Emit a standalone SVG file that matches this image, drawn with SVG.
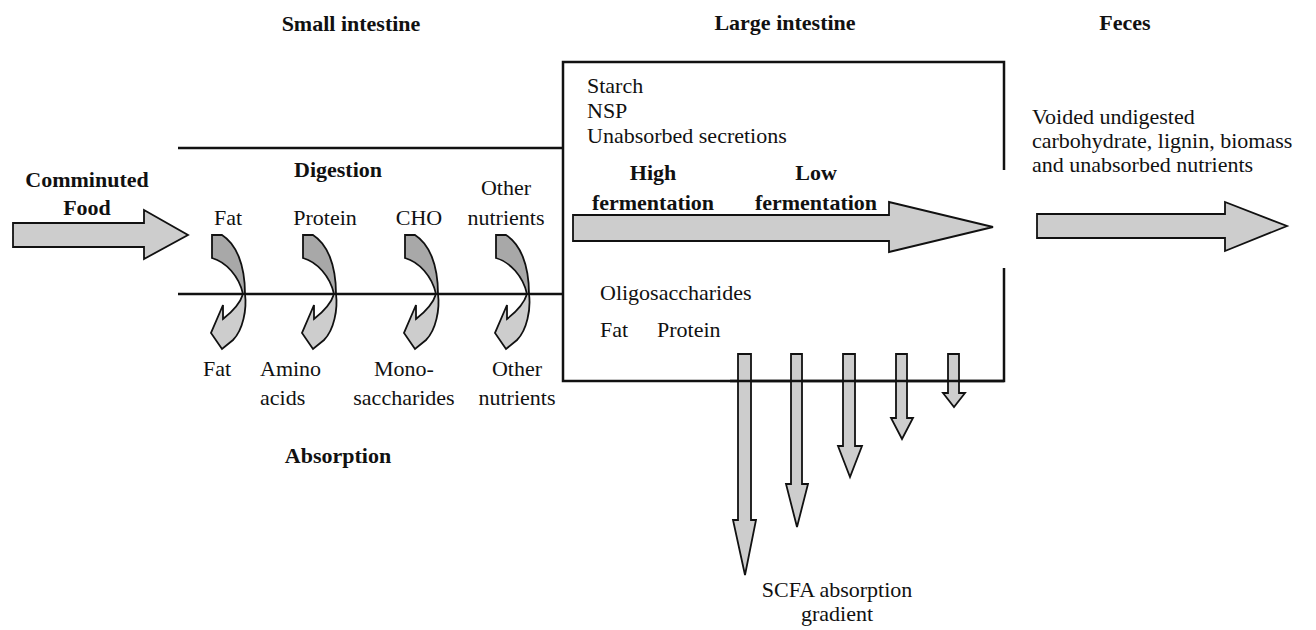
<svg xmlns="http://www.w3.org/2000/svg" width="1316" height="630" viewBox="0 0 1316 630" font-family="'Liberation Serif', 'Times New Roman', serif">
<style>
text{font-family:"Liberation Serif","Times New Roman",serif;font-size:22px;fill:#111}
.b{font-weight:bold}
.m{text-anchor:middle}
.ln{stroke:#111;stroke-width:2.5;fill:none}
.ar{fill:#cdcdcd;stroke:#111;stroke-width:1.8;stroke-linejoin:miter}
.dk{fill:#a8a8a8;stroke:#111;stroke-width:1.8}
</style>
<defs>
<g id="curl">
<path class="dk" d="M-32,-59 L-22,-59 C-8,-50 1,-30 1,0 L-1,0 C-5,-18 -18,-32 -32,-36 Z"/>
<path class="ar" d="M1,0 C3,15 -1,36 -11,46 L-22,55 L-33,39 L-21,11 L-21,25 C-12,18 -4,10 -1,0 Z"/>
</g>
</defs>
<rect width="1316" height="630" fill="#fff"/>
<g id="headers">
<text class="b m" x="351" y="31">Small intestine</text>
<text class="b m" x="785" y="30">Large intestine</text>
<text class="b m" x="1125" y="30">Feces</text>
</g>
<g id="food">
<path class="ar" d="M13,223 L144,223 L144,210 L188,235 L144,259 L144,247 L13,247 Z"/>
<text class="b m" x="87" y="187">Comminuted</text>
<text class="b m" x="87" y="215">Food</text>
</g>
<g id="connectors">
<path class="ln" d="M178,148 L563,148"/>
<path class="ln" d="M178,294 L563,294"/>
<path class="ln" d="M1004,170 L1004,62 L563,62 L563,381 L1004,381 L1004,268"/>
</g>
<g id="small-intestine">
<text class="b m" x="338" y="177">Digestion</text>
<text class="m" x="228" y="225">Fat</text>
<text class="m" x="325" y="225">Protein</text>
<text class="m" x="419" y="225">CHO</text>
<text class="m" x="506" y="195">Other</text>
<text class="m" x="506" y="225">nutrients</text>
<use href="#curl" transform="translate(244,294)"/>
<use href="#curl" transform="translate(335,294)"/>
<use href="#curl" transform="translate(437,294)"/>
<use href="#curl" transform="translate(528,294)"/>
<text class="m" x="217" y="376">Fat</text>
<text x="260" y="376">Amino</text>
<text x="260" y="405">acids</text>
<text class="m" x="404" y="376">Mono-</text>
<text class="m" x="404" y="405">saccharides</text>
<text class="m" x="517" y="376">Other</text>
<text class="m" x="517" y="405">nutrients</text>
<text class="b m" x="338" y="463">Absorption</text>
</g>
<g id="large-intestine">
<text x="587" y="93">Starch</text>
<text x="587" y="118">NSP</text>
<text x="587" y="143">Unabsorbed secretions</text>
<text class="b m" x="653" y="180">High</text>
<text class="b m" x="653" y="210">fermentation</text>
<text class="b m" x="816" y="180">Low</text>
<text class="b m" x="816" y="210">fermentation</text>
<path class="ar" d="M573,215 L889,215 L889,202 L993,227 L889,252 L889,241 L573,241 Z"/>
<text x="600" y="300">Oligosaccharides</text>
<text x="600" y="337">Fat</text>
<text x="657" y="337">Protein</text>
</g>
<g id="scfa">
<path class="ar" d="M738,354 L751,354 L751,520 L756,520 L745,575 L733,520 L738,520 Z"/>
<path class="ar" d="M791,354 L802,354 L802,484 L808,484 L797,527 L786,484 L791,484 Z"/>
<path class="ar" d="M843,354 L855,354 L855,446 L862,446 L850,477 L838,446 L843,446 Z"/>
<path class="ar" d="M896,354 L907,354 L907,418 L913,418 L902,439 L891,418 L896,418 Z"/>
<path class="ar" d="M948,354 L959,354 L959,393 L965,393 L954,407 L943,393 L948,393 Z"/>
<path class="ln" d="M730,381 L1004,381"/>
<text class="m" x="837" y="597">SCFA absorption</text>
<text class="m" x="837" y="621">gradient</text>
</g>
<g id="feces">
<text x="1032" y="124">Voided undigested</text>
<text x="1032" y="148">carbohydrate, lignin, biomass</text>
<text x="1032" y="172">and unabsorbed nutrients</text>
<path class="ar" d="M1037,214 L1225,214 L1225,202 L1287,226 L1225,251 L1225,238 L1037,238 Z"/>
</g>
</svg>
